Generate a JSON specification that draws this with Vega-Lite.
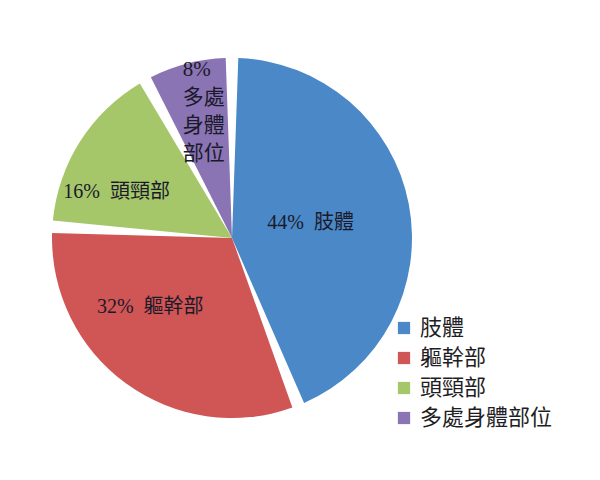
{
  "$schema": "https://vega.github.io/schema/vega-lite/v6.json",
  "width": 464,
  "height": 476,
  "autosize": {"type": "none"},
  "padding": {"left": 0, "top": 0, "right": 136, "bottom": 4},
  "background": "white",
  "data": {
    "values": [
      {"part": "肢體", "pct": 44, "label": "44%\u2002肢體"},
      {"part": "軀幹部", "pct": 32, "label": "32%\u2002軀幹部"},
      {"part": "頭頸部", "pct": 16, "label": "16%\u2002頭頸部"},
      {"part": "多處身體部位", "pct": 8, "label": "8%\n多處\n身體\n部位"}
    ]
  },
  "encoding": {
    "theta": {"field": "pct", "type": "quantitative", "stack": true, "sort": null},
    "order": {"field": "pct", "sort": "descending"}
  },
  "layer": [
    {
      "mark": {"type": "arc", "outerRadius": 180, "padAngle": 0.07},
      "encoding": {
        "color": {
          "field": "part",
          "type": "nominal",
          "sort": null,
          "scale": {
            "domain": ["肢體", "軀幹部", "頭頸部", "多處身體部位"],
            "range": ["#4A88C8", "#D05555", "#A5C76A", "#8A74B4"]
          },
          "legend": {
            "title": null,
            "orient": "none",
            "legendX": 393,
            "legendY": 317,
            "symbolType": "square",
            "symbolSize": 150,
            "symbolStrokeWidth": 0,
            "labelFont": "Liberation Serif, Noto Sans CJK TC",
            "labelFontSize": 22,
            "labelColor": "#1e1e24",
            "labelOffset": 5,
            "rowPadding": 8
          }
        }
      }
    },
    {
      "mark": {"type": "text", "radius": 80, "font": "Liberation Serif, Noto Sans CJK TC", "fontSize": 20, "color": "#1a1a2a"},
      "encoding": {
        "text": {"condition": {"test": "datum.part === '肢體'", "field": "label"}, "value": ""}
      }
    },
    {
      "mark": {"type": "text", "radius": 100, "dx": -23, "dy": -12, "font": "Liberation Serif, Noto Sans CJK TC", "fontSize": 20, "color": "#1a1a2a"},
      "encoding": {
        "text": {"condition": {"test": "datum.part === '軀幹部'", "field": "label"}, "value": ""}
      }
    },
    {
      "mark": {"type": "text", "radius": 120, "dx": -14, "dy": 18, "font": "Liberation Serif, Noto Sans CJK TC", "fontSize": 20, "color": "#1a1a2a"},
      "encoding": {
        "text": {"condition": {"test": "datum.part === '頭頸部'", "field": "label"}, "value": ""}
      }
    },
    {
      "mark": {
        "type": "text",
        "radius": 130,
        "dx": -17,
        "dy": -42,
        "align": "left",
        "font": "Liberation Serif, Noto Sans CJK TC",
        "fontSize": 21,
        "color": "#1a1a2a",
        "lineBreak": "\n",
        "lineHeight": 28
      },
      "encoding": {
        "text": {"condition": {"test": "datum.part === '多處身體部位'", "field": "label"}, "value": ""}
      }
    }
  ]
}
